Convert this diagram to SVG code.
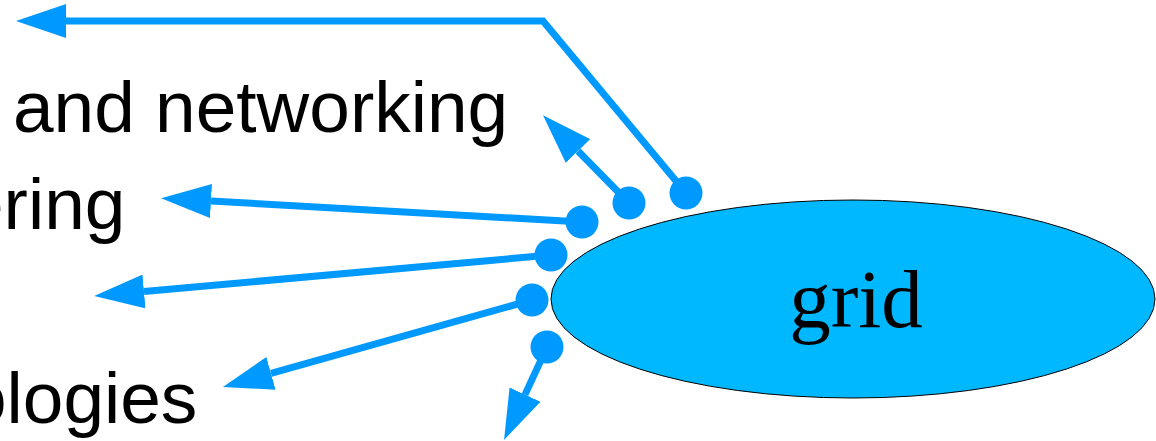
<svg xmlns="http://www.w3.org/2000/svg" width="1156" height="441" viewBox="0 0 1156 441">
<style>
.lbl{font-family:"Liberation Sans",Arial,sans-serif;font-size:73px;fill:#000}
.conn{fill:none;stroke:#0099ff;stroke-width:7;marker-end:url(#ah)}
.dot{fill:#0099ff}
</style>
<defs>
<marker id="ah" markerUnits="userSpaceOnUse" viewBox="0 0 50 34" markerWidth="50" markerHeight="34" refX="0" refY="17" orient="auto">
<path d="M0,0 L50,17 L0,34 z" fill="#0099ff"/>
</marker>
</defs>
<g id="labels">
<text class="lbl" x="13" y="132">and networking</text>
<text class="lbl" x="-37" y="229">ering</text>
<text class="lbl" x="-34" y="423">ologies</text>
</g>
<g id="grid">
<ellipse cx="853" cy="299" rx="302" ry="99" fill="#00b8ff" stroke="#000" stroke-width="1"/>
<text x="856" y="327" text-anchor="middle" style="font-family:'Liberation Serif','Times New Roman',serif;font-size:83px;fill:#000">grid</text>
</g>
<g id="connectors">
<path class="conn" d="M686,193 L543,21 L66,21"/>
<path class="conn" d="M629,203 L578,151"/>
<path class="conn" d="M582,222 L211,201"/>
<path class="conn" d="M551,255 L144,291.5"/>
<path class="conn" d="M532,300 L271,373.4"/>
<path class="conn" d="M547,347 L525,394.6"/>
<circle class="dot" cx="686" cy="193" r="16.5"/>
<circle class="dot" cx="629" cy="203" r="16.5"/>
<circle class="dot" cx="582" cy="222" r="16.5"/>
<circle class="dot" cx="551" cy="255" r="16.5"/>
<circle class="dot" cx="532" cy="300" r="16.5"/>
<circle class="dot" cx="547" cy="347" r="16.5"/>
</g>
</svg>
